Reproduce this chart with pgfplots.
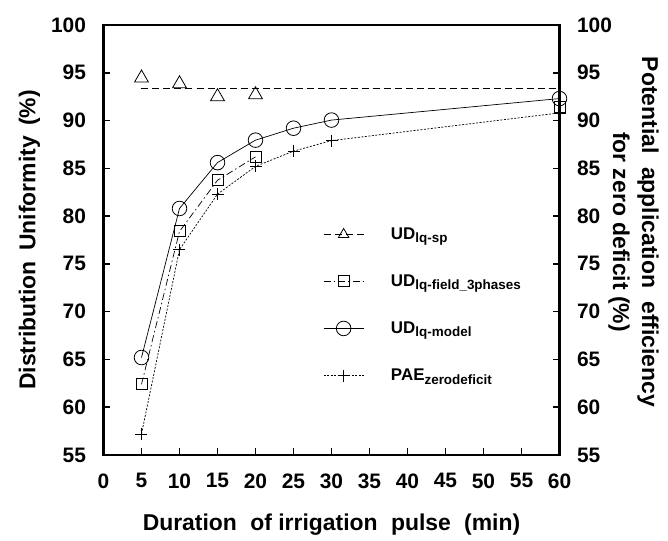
\documentclass[border=0pt]{standalone}
\usepackage{pgfplots}
\pgfplotsset{compat=1.18}
\usepackage{fontspec}
\setmainfont{Liberation Sans}

% subscript used in the legend entries (the strut keeps every row the same height)
\newcommand{\sub}[1]{\raisebox{-0.35ex}{\fontsize{13.5}{13.5}\selectfont\bfseries\vphantom{lq}#1}}
\newcommand{\tickfont}{\fontsize{21}{25}\selectfont\bfseries}
\newcommand{\labelfont}{\fontsize{23}{29}\selectfont\bfseries}
\newcommand{\wsp}{\hspace{7bp} }

\begin{document}
\begin{tikzpicture}
\pgfplotsset{
  common/.style={
    scale only axis, width=456bp, height=430bp,
    xmin=0, xmax=60, ymin=55, ymax=100,
    xtick={0,5,...,60}, ytick={55,60,...,100},
    tick align=inside, major tick length=7bp,
    tick label style={font=\tickfont},
    /pgf/number format/assume math mode=true,
  },
}
\begin{axis}[
  common,
  xtick pos=left, ytick pos=both, yticklabel pos=left,
  axis line style={line width=2.2bp},
  every tick/.style={line width=1.6bp, black},
  yticklabel style={xshift=-14bp},
  xticklabel style={yshift=-15bp},
  every axis x label/.style={at={(axis description cs:0.5,0)}, yshift=-70bp, anchor=center, font=\labelfont},
  every axis y label/.style={at={(axis description cs:0,0.5)}, xshift=-74bp, rotate=90, anchor=center, font=\labelfont},
  xlabel={Duration\wsp of irrigation\wsp pulse\wsp (min)},
  ylabel={Distribution\hspace{4bp} Uniformity\hspace{4bp} (\%)},
  legend style={at={(axis cs:28.5,79.0)}, anchor=north west, draw=none, fill=none,
    font=\fontsize{17}{20}\selectfont\bfseries, row sep=33.5bp,
    nodes={inner sep=0pt}},
  legend cell align=left,
  /tikz/every odd column/.append style={column sep=27bp},
  legend image code/.code={\draw[mark repeat=2,mark phase=2] plot coordinates {(0bp,0bp) (20bp,0bp) (40bp,0bp)};},
]
% mean line of the sprinkler-based uniformity
\addplot[black, line width=0.7bp, dash pattern=on 7bp off 4bp, forget plot]
  coordinates {(5,93.4) (60,93.4)};
\addplot[black, only marks, mark=triangle, mark size=8bp, mark options={line width=0.8bp, solid}, forget plot]
  coordinates {(5,94.45) (10,93.85) (15,92.5) (20,92.7)};
\addlegendimage{black, line width=0.7bp, dash pattern=on 7bp off 4bp, mark=triangle, mark size=6bp, mark options={line width=0.8bp, solid}}
\addlegendentry{UD\sub{lq-sp}}

\addplot[black, line width=0.7bp, dash pattern=on 7bp off 3bp on 1.5bp off 3bp, mark=square, mark size=5.5bp, mark options={line width=0.8bp, solid}]
  coordinates {(5,62.4) (10,78.4) (15,83.75) (20,86.2)};
\addlegendentry{UD\sub{lq-field\_3phases}}
\addplot[black, only marks, mark=square, mark size=5.5bp, mark options={line width=0.8bp, solid}, forget plot]
  coordinates {(60,91.4)};

\addplot[black, line width=0.7bp, mark=o, mark size=7.3bp, mark options={line width=0.8bp, solid}]
  coordinates {(5,65.2) (10,80.8) (15,85.6) (20,87.95) (25,89.2) (30,90.05) (60,92.3)};
\addlegendentry{UD\sub{lq-model}}

\addplot[black, line width=0.7bp, dash pattern=on 2bp off 1.5bp, mark=+, mark size=6bp, mark options={line width=0.8bp, solid}]
  coordinates {(5,57.2) (10,76.5) (15,82.3) (20,85.2) (25,86.8) (30,87.9) (60,90.8)};
\addlegendentry{PAE\sub{zerodeficit}}
\end{axis}

% right-hand scale
\begin{axis}[
  common,
  axis x line=none, axis y line*=right,
  axis line style={draw=none},
  major tick length=0bp,
  yticklabel style={xshift=14bp},
  every axis y label/.style={at={(axis description cs:1,0.5)}, xshift=74bp, yshift=8bp, rotate=-90, anchor=center, align=center, font=\labelfont},
  ylabel={Potential\wsp application\wsp efficiency\\for zero deficit (\%)},
]
\end{axis}

\pgfresetboundingbox
\path[use as bounding box] (current axis.south west) ++(-103.5bp,-86bp) rectangle ++(668bp,541bp);
\end{tikzpicture}
\end{document}
